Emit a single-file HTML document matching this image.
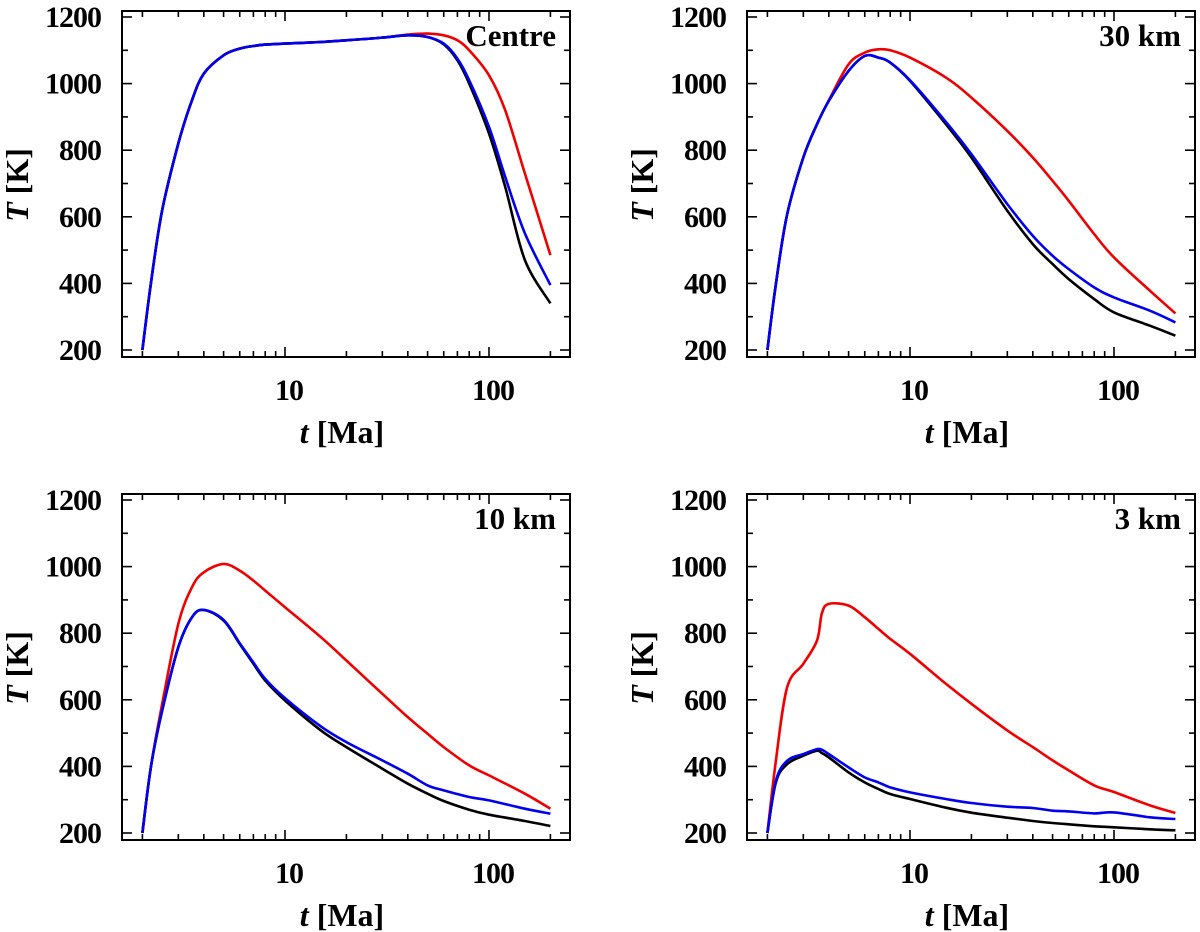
<!DOCTYPE html>
<html><head><meta charset="utf-8">
<style>
html,body{margin:0;padding:0;background:#fff;}
svg{display:block;font-family:"Liberation Serif",serif;font-weight:bold;}
</style></head>
<body>
<svg id="chart" width="1200" height="932" viewBox="0 0 1200 932" xmlns="http://www.w3.org/2000/svg"></svg>
<script>
const panelLabels = ["Centre","30 km","10 km","3 km"];
const yTicks = [200,400,600,800,1000,1200];
const xTickLabels = [10,100];
const timesCentre = [2,2.2,2.5,3,3.5,4,5,6,7,8,10,15,20,30,40,50,60,70,80,100,120,150,200];
const centreBlack = [200,400,620,820,950,1030,1085,1105,1113,1117,1120,1125,1130,1138,1145,1140,1118,1070,1000,850,690,470,340];
const centreBlue  = [200,400,620,820,950,1030,1085,1105,1113,1117,1120,1125,1130,1138,1145,1140,1120,1075,1010,870,720,550,395];
const centreRed   = [200,400,620,820,950,1030,1085,1105,1113,1117,1120,1125,1130,1138,1147,1150,1145,1130,1100,1025,920,730,485];
const timesMid = [2,2.2,2.5,3,3.5,4,5,6,7,8,10,15,20,30,40,50,60,80,100,150,200];
const km30Black = [200,398,608,778,878,948,1038,1083,1078,1063,1008,878,778,618,518,458,413,353,313,273,243];
const km30Blue  = [200,398,608,778,878,948,1038,1083,1078,1063,1010,885,788,638,543,483,443,388,358,318,283];
const km30Red   = [200,398,608,778,878,950,1058,1093,1103,1100,1078,1018,958,858,778,708,648,548,478,378,310];
const km10Black = [200,398,568,758,848,870,838,768,708,658,598,508,458,393,348,318,296,270,255,236,221];
const km10Blue  = [200,398,568,758,848,870,840,770,712,663,605,520,473,418,378,343,328,308,298,273,258];
const km10Red   = [200,398,588,828,938,983,1008,988,958,928,878,788,718,618,548,498,458,403,373,318,273];
const times3 = [2,2.2,2.5,3,3.5,3.7,4,5,6,7,8,10,15,20,30,40,50,60,80,100,150,200];
const km3Black = [200,352,407,432,447,440,427,382,352,332,317,302,276,261,246,236,230,226,220,217,211,208];
const km3Blue  = [200,357,417,437,452,450,437,397,367,352,337,322,302,290,279,275,267,265,259,262,247,242];
const km3Red   = [200,417,638,708,778,860,888,883,848,813,783,738,648,588,508,458,418,388,343,323,283,260];

const panelsData = [
 {t:timesCentre, s:[centreBlack,centreBlue,centreRed]},
 {t:timesMid, s:[km30Black,km30Blue,km30Red]},
 {t:timesMid, s:[km10Black,km10Blue,km10Red]},
 {t:times3, s:[km3Black,km3Blue,km3Red]}
];
const colors = ["#000","#0000ee","#ee0000"];
const seriesNames = ["black","blue","red"];
const drawOrder = [2,0,1];
const NS = "http://www.w3.org/2000/svg";
const svg = document.getElementById('chart');
function mk(tag, attrs, parent){const e=document.createElementNS(NS,tag);for(const k in attrs)e.setAttribute(k,attrs[k]);(parent||svg).appendChild(e);return e;}

const origins = [[0,0],[625,0],[0,483],[625,483]];
panelsData.forEach((pd,pi)=>{
  const ox=origins[pi][0], oy=origins[pi][1];
  const g = mk('g',{});
  
  
  const L=122+ox, R=570+ox, T=11+oy, B=357+oy;
  const xs = t => 285+ox + (Math.log10(t)-1)*204;
  const ys = v => 350+oy - (v-200)*0.333;
  drawOrder.forEach(si=>{
    const vals = pd.s[si];
    const pts = pd.t.map((t,i)=>[xs(t),ys(vals[i])]);
    let d='M'+pts[0][0].toFixed(1)+','+pts[0][1].toFixed(1);
    for(let i=0;i<pts.length-1;i++){
      const p0=pts[Math.max(0,i-1)],p1=pts[i],p2=pts[i+1],p3=pts[Math.min(pts.length-1,i+2)];
      const c1=[p1[0]+(p2[0]-p0[0])/6,p1[1]+(p2[1]-p0[1])/6];
      const c2=[p2[0]-(p3[0]-p1[0])/6,p2[1]-(p3[1]-p1[1])/6];
      d+=' C'+c1.map(v=>v.toFixed(1)).join(',')+' '+c2.map(v=>v.toFixed(1)).join(',')+' '+p2.map(v=>v.toFixed(1)).join(',');
    }
    const p = mk('path',{d:d,fill:'none',stroke:colors[si],'stroke-width':2.6,'stroke-linejoin':'round'},g);
    
    
  });
  const f = mk('rect',{x:L,y:T,width:R-L,height:B-T,fill:'none',stroke:'#000','stroke-width':2},g);
  
  
  for(let v=200;v<=1200;v+=100){
    const y=ys(v), len=(v%200===0)?10:6;
    mk('line',{x1:L,x2:L+len,y1:y,y2:y,stroke:'#000','stroke-width':1.6},g);
    mk('line',{x1:R,x2:R-len,y1:y,y2:y,stroke:'#000','stroke-width':1.6},g);
  }
  yTicks.forEach(v=>{
    const tx=mk('text',{x:L-21,y:ys(v)+10,'text-anchor':'end','font-size':30,'letter-spacing':'-1'},g);
    tx.textContent=v;
    
    
  });
  [2,3,4,5,6,7,8,9,10,20,30,40,50,60,70,80,90,100,200].forEach(t=>{
    const x=xs(t), len=(t===10||t===100)?10:6;
    mk('line',{x1:x,x2:x,y1:B,y2:B-len,stroke:'#000','stroke-width':1.6},g);
    mk('line',{x1:x,x2:x,y1:T,y2:T+len,stroke:'#000','stroke-width':1.6},g);
  });
  xTickLabels.forEach(t=>{
    const tx=mk('text',{x:xs(t)+4,y:B+43,'text-anchor':'middle','font-size':30,'letter-spacing':'-1'},g);
    tx.textContent=t;
    
    
  });
  const xt=mk('text',{x:ox+342,y:B+86,'text-anchor':'middle','font-size':32},g);
  xt.innerHTML='<tspan font-style="italic">t</tspan> [Ma]';
  
  
  const yt=mk('text',{x:0,y:0,'text-anchor':'middle','font-size':32,transform:'translate('+(ox+28)+','+(oy+185)+') rotate(-90)'},g);
  yt.innerHTML='<tspan font-style="italic">T</tspan> [K]';
  
  
  const pl=mk('text',{x:R-14,y:T+35,'text-anchor':'end','font-size':31},g);
  pl.textContent=panelLabels[pi];
  
  
});
</script>
</body></html>
